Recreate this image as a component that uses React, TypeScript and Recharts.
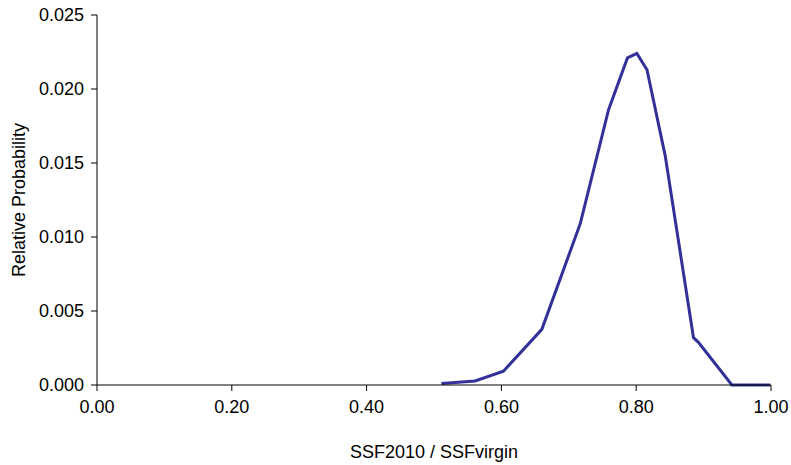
import { LineChart, Line, XAxis, YAxis } from "recharts"

// SSF2010 / SSFvirgin vs relative probability
const sfRatio = [0.511, 0.561, 0.603, 0.66, 0.717, 0.759, 0.787, 0.801, 0.816, 0.843, 0.885, 0.892, 0.942, 0.999]
const relProb = [0.0001, 0.00027, 0.00093, 0.00376, 0.0109, 0.0186, 0.0221, 0.0224, 0.0213, 0.0155, 0.0032, 0.0029, 0.0, 0.0]

const xTicks = [0, 0.2, 0.4, 0.6, 0.8, 1.0]
const yTicks = [0, 0.005, 0.01, 0.015, 0.02, 0.025]

const LINE_COLOR = "#313199"
const FONT = "'Liberation Sans', Arial, sans-serif"

const data = sfRatio.map((x, i) => ({ x, y: relProb[i] }))

export default function App() {
  const tickStyle = { fill: "#000", fontSize: 18, fontFamily: FONT }

  return (
    <div style={{ position: "absolute", left: 0, top: 0, width: 791, height: 465, background: "#fff" }}>
      <LineChart width={791} height={465} data={data} margin={{ top: 15, right: 20, bottom: 0, left: 0 }}>
        <XAxis
          dataKey="x"
          type="number"
          domain={[0, 1]}
          ticks={xTicks}
          tickFormatter={(v: number) => v.toFixed(2)}
          height={80}
          tickSize={6}
          tickMargin={9}
          stroke="#000"
          tick={tickStyle}
          label={{ value: "SSF2010 / SSFvirgin", position: "insideBottom", offset: 7, style: { fill: "#000", fontSize: 18, fontFamily: FONT } }}
        />
        <YAxis
          type="number"
          domain={[0, 0.025]}
          ticks={yTicks}
          tickFormatter={(v: number) => v.toFixed(3)}
          width={97}
          tickSize={6}
          tickMargin={7}
          stroke="#000"
          tick={tickStyle}
          label={{ value: "Relative Probability", angle: -90, position: "insideLeft", offset: 19, style: { textAnchor: "middle", fill: "#000", fontSize: 18, fontFamily: FONT } }}
        />
        <Line
          dataKey="y"
          type="linear"
          stroke={LINE_COLOR}
          strokeWidth={3}
          dot={false}
          isAnimationActive={false}
        />
      </LineChart>
    </div>
  )
}
